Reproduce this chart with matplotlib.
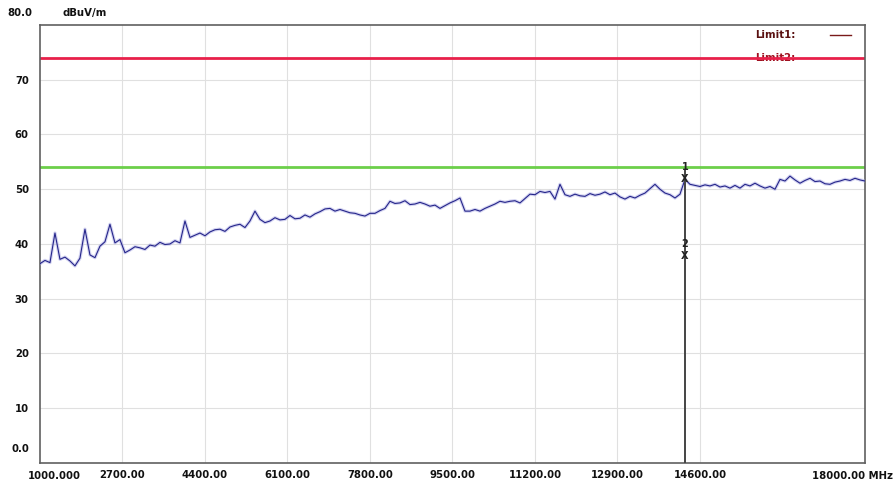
import numpy as np
import matplotlib
matplotlib.use("Agg")
from matplotlib import pyplot as plt

# sweep 1000 - 18000 MHz, level in dBuV/m
f_start, f_stop = 1000.0, 18000.0
level = [
    36.4, 37.0, 36.6, 42.0, 37.2, 37.6, 36.9, 36.0, 37.4, 42.7,
    38.0, 37.5, 39.6, 40.4, 43.6, 40.2, 40.8, 38.4, 38.9, 39.5,
    39.3, 39.0, 39.8, 39.6, 40.3, 39.9, 40.0, 40.6, 40.2, 44.2,
    41.2, 41.6, 42.0, 41.5, 42.2, 42.6, 42.7, 42.3, 43.1, 43.4,
    43.6, 43.0, 44.2, 46.0, 44.5, 43.9, 44.2, 44.8, 44.4, 44.5,
    45.2, 44.6, 44.7, 45.3, 44.9, 45.5, 45.9, 46.4, 46.5, 46.0,
    46.3, 46.0, 45.7, 45.6, 45.3, 45.1, 45.6, 45.6, 46.1, 46.5,
    47.8, 47.4, 47.5, 47.9, 47.2, 47.3, 47.6, 47.3, 46.9, 47.1,
    46.5, 47.0, 47.5, 47.9, 48.4, 46.0, 46.0, 46.3, 46.0, 46.5,
    46.9, 47.3, 47.8, 47.6, 47.8, 47.9, 47.5, 48.3, 49.1, 49.0,
    49.6, 49.4, 49.6, 48.2, 50.9, 49.0, 48.7, 49.1, 48.8, 48.7,
    49.2, 48.9, 49.1, 49.5, 49.0, 49.3, 48.6, 48.2, 48.7, 48.4,
    48.9, 49.3, 50.1, 50.9, 50.0, 49.3, 49.0, 48.4, 49.1, 51.8,
    50.9, 50.7, 50.5, 50.8, 50.6, 50.9, 50.4, 50.6, 50.2, 50.7,
    50.2, 50.9, 50.6, 51.1, 50.6, 50.2, 50.5, 50.0, 51.8, 51.5,
    52.4, 51.7, 51.1, 51.6, 52.0, 51.4, 51.5, 51.0, 50.9, 51.3,
    51.5, 51.8, 51.6, 52.0, 51.7, 51.5,
]
freq = np.linspace(f_start, f_stop, len(level))

limit1 = 74.0
limit2 = 54.0
marker_freq = 14290.0
marker_levels = [51.8, 37.8]
marker_names = ["1", "2"]

x_ticks = [1000, 2700, 4400, 6100, 7800, 9500, 11200, 12900, 14600, 16300, 18000]
x_labels = ["", "2700.00", "4400.00", "6100.00", "7800.00", "9500.00",
            "11200.00", "12900.00", "14600.00", "", ""]
y_ticks = [10, 20, 30, 40, 50, 60, 70]

plt.rcParams['font.family'] = ['DejaVu Sans']
fs = 7.3
tc = '#111111'
fig = plt.figure(figsize=(8.96, 4.84), dpi=100)
ax = fig.add_axes([0.0446, 0.0434, 0.9208, 0.9050])

ax.set_xlim(f_start, f_stop)
ax.set_ylim(0, 80)

# grid
for xt in x_ticks[1:-2]:
    ax.axvline(xt, color='#e0e0e0', lw=0.8, zorder=0)
for yt in y_ticks:
    ax.axhline(yt, color='#e0e0e0', lw=0.8, zorder=0)

ax.set_xticks(x_ticks)
ax.set_xticklabels(x_labels, fontsize=fs, color=tc, fontweight='bold')
ax.set_yticks(y_ticks)
ax.set_yticklabels([str(v) for v in y_ticks], fontsize=fs, color=tc, fontweight='bold')
ax.tick_params(length=0)
ax.tick_params(axis='x', pad=5)
ax.tick_params(axis='y', pad=8)

ax.text(750, -1.4, "1000.000", fontsize=fs, ha='left', va='top', color=tc, fontweight='bold', clip_on=False)
ax.text(18580, -1.4, "18000.00 MHz", fontsize=fs, ha='right', va='top', color=tc, fontweight='bold', clip_on=False)
ax.text(-0.024, 0.02, "0.0", transform=ax.transAxes, fontsize=fs, ha='center', va='bottom', color=tc, fontweight='bold')
ax.text(-0.024, 1.015, "80.0", transform=ax.transAxes, fontsize=fs, ha='center', va='bottom', color=tc, fontweight='bold')
ax.text(0.027, 1.015, "dBuV/m", transform=ax.transAxes, fontsize=fs, ha='left', va='bottom', color=tc, fontweight='bold')

for s in ax.spines.values():
    s.set_color('#606060')
    s.set_linewidth(1.2)

# limits
ax.axhline(limit1, color='#e8204a', lw=2.0, zorder=2)
ax.axhline(limit2, color='#6ccf4a', lw=2.0, zorder=2)

# trace
ax.plot(freq, level, color='#a0a0e0', lw=2.4, alpha=0.45, zorder=3)
ax.plot(freq, level, color='#25258a', lw=0.8, zorder=4)

# marker
ax.plot([marker_freq, marker_freq], [0, marker_levels[0] + 1.5], color='#444444', lw=1.4, zorder=5)
for name, lv in zip(marker_names, marker_levels):
    ax.text(marker_freq, lv, "X", fontsize=7, ha='center', va='center', color='#222222', fontweight='bold', zorder=6)
    ax.text(marker_freq, lv + 2.2, name, fontsize=7, ha='center', va='center', color='#222222', fontweight='bold', zorder=6)

# legend
ax.text(0.867, 0.977, "Limit1:", transform=ax.transAxes, fontsize=fs, ha='left', va='center', color='#5a1010', fontweight='bold')
ax.plot([0.957, 0.983], [0.977, 0.977], transform=ax.transAxes, color='#7a1a1a', lw=1.0)
ax.text(0.867, 0.925, "Limit2:", transform=ax.transAxes, fontsize=fs, ha='left', va='center', color='#a01020', fontweight='bold', zorder=1)

fig.savefig("out.png", dpi=100)
